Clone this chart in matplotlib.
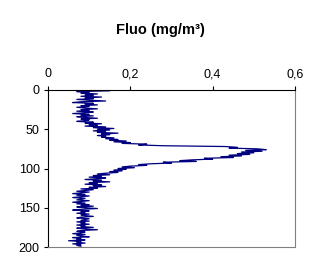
import matplotlib
matplotlib.use("Agg")
import matplotlib.pyplot as plt
import numpy as np

plt.rcParams['font.family'] = ['Liberation Sans', 'DejaVu Sans']

# fluorescence (mg/m3) per 1 m depth
fluo = [
    0.09, 0.15, 0.07, 0.10, 0.08, 0.12, 0.09, 0.11, 0.08, 0.13,
    0.09, 0.11, 0.07, 0.10, 0.14, 0.08, 0.06, 0.11, 0.09, 0.12,
    0.08, 0.10, 0.07, 0.09, 0.12, 0.08, 0.10, 0.07, 0.11, 0.09,
    0.06, 0.10, 0.08, 0.11, 0.07, 0.09, 0.12, 0.08, 0.10, 0.09,
    0.07, 0.11, 0.09, 0.13, 0.10, 0.12, 0.09, 0.14, 0.11, 0.16,
    0.12, 0.15, 0.11, 0.14, 0.12, 0.17, 0.13, 0.15, 0.12, 0.14,
    0.13, 0.16, 0.14, 0.17, 0.15, 0.19, 0.16, 0.20, 0.18, 0.24,
    0.22, 0.28, 0.43, 0.46, 0.44, 0.51, 0.53, 0.48, 0.52, 0.47,
    0.50, 0.46, 0.49, 0.44, 0.47, 0.42, 0.45, 0.38, 0.40, 0.35,
    0.32, 0.36, 0.28, 0.30, 0.25, 0.22, 0.24, 0.20, 0.18, 0.21,
    0.17, 0.19, 0.16, 0.18, 0.15, 0.17, 0.14, 0.12, 0.15, 0.11,
    0.13, 0.10, 0.14, 0.12, 0.09, 0.13, 0.11, 0.15, 0.10, 0.12,
    0.09, 0.13, 0.11, 0.14, 0.10, 0.12, 0.08, 0.11, 0.09, 0.07,
    0.10, 0.08, 0.06, 0.09, 0.07, 0.10, 0.08, 0.06, 0.09, 0.08,
    0.07, 0.10, 0.08, 0.06, 0.09, 0.07, 0.10, 0.08, 0.11, 0.07,
    0.09, 0.12, 0.08, 0.06, 0.10, 0.08, 0.09, 0.07, 0.10, 0.08,
    0.09, 0.11, 0.08, 0.07, 0.10, 0.09, 0.08, 0.10, 0.07, 0.09,
    0.08, 0.10, 0.07, 0.09, 0.08, 0.11, 0.07, 0.09, 0.12, 0.08,
    0.07, 0.09, 0.08, 0.06, 0.09, 0.07, 0.08, 0.10, 0.06, 0.08,
    0.07, 0.09, 0.05, 0.08, 0.07, 0.09, 0.06, 0.08, 0.07, 0.08,
]
depth = np.arange(len(fluo))

x_ticks = [0, 0.2, 0.4, 0.6]
x_labels = ['0', '0,2', '0,4', '0,6']
y_ticks = [0, 50, 100, 150, 200]

fig = plt.figure(figsize=(3.21, 2.73), dpi=100)
ax = fig.add_axes([48 / 321, 1 - 247 / 273, 247 / 321, 157 / 273])

ax.plot(fluo, depth, color='#000080', linewidth=0.9)

ax.set_xlim(0, 0.6)
ax.set_ylim(200, 0)
ax.xaxis.tick_top()
ax.set_xticks(x_ticks)
ax.set_xticklabels(x_labels)
ax.set_yticks(y_ticks)
ax.tick_params(axis='both', direction='out', length=3, width=0.8,
               labelsize=9, pad=3, colors='black')
ax.tick_params(axis='x', pad=4)

for s in ['top', 'left']:
    ax.spines[s].set_color('black')
    ax.spines[s].set_linewidth(0.8)
for s in ['bottom', 'right']:
    ax.spines[s].set_color('#808080')
    ax.spines[s].set_linewidth(0.8)

fig.text(0.5, 1 - 30 / 273, 'Fluo (mg/m³)', ha='center', va='center',
         fontsize=10.5, fontweight='bold')

fig.savefig("out.png", dpi=100)
